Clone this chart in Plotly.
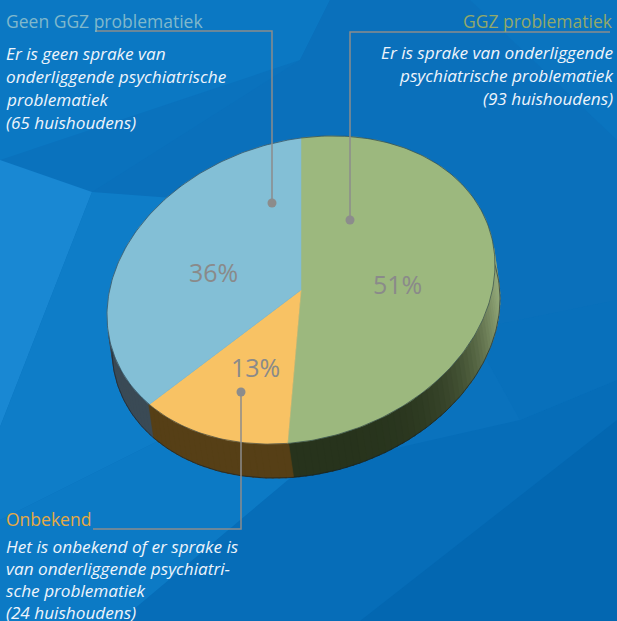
import numpy as np
import plotly.graph_objects as go

# ---------------- data ----------------
categories = ["GGZ problematiek", "Onbekend", "Geen GGZ problematiek"]
households = [93, 24, 65]
descriptions = [
    ["Er is sprake van onderliggende", "psychiatrische problematiek", "(93 huishoudens)"],
    ["Het is onbekend of er sprake is", "van onderliggende psychiatri-", "sche problematiek", "(24 huishoudens)"],
    ["Er is geen sprake van", "onderliggende psychiatrische", "problematiek", "(65 huishoudens)"],
]

# ---------------- styles ----------------
top_colors = ["#9cb87e", "#f8c264", "#83bfd6"]
side_dark = ["#27331c", "#563f16", "#3a4a55"]
side_light = ["#93a878", "#8c6a2c", "#5d7584"]
title_colors = ["#93a96a", "#e6aa43", "#80b8cc"]
W, H = 617, 621
cx, cy, rx, ry, shear = 301.0, 290.0, 194.0, 152.0, 0.13
ext = (5.0, 34.0)


def pt(theta, ox=0.0, oy=0.0):
    t = np.radians(theta)
    x = cx + rx * np.sin(t) + ox
    y = cy - ry * np.cos(t) - shear * rx * np.sin(t) + oy
    return x, y


def hex2rgb(h):
    h = h.lstrip("#")
    return np.array([int(h[i:i + 2], 16) for i in (0, 2, 4)], dtype=float)


def mix(a, b, f):
    c = hex2rgb(a) * (1 - f) + hex2rgb(b) * f
    return "rgb(%d,%d,%d)" % tuple(np.round(c).astype(int))


total = sum(households)
fracs = [v / total for v in households]
bounds = np.concatenate([[0], np.cumsum(fracs) * 360])

fig = go.Figure()

# ---------------- background facets ----------------
bg_shapes = [
    ([(0, 0), (330, 0), (300, 60), (0, 160)], "#0b78c3"),
    ([(0, 160), (92, 192), (0, 427)], "#1988d3"),
    ([(92, 192), (300, 60), (330, 0), (617, 0), (617, 420), (470, 330)], "#0a70bb"),
    ([(617, 0), (470, 0), (617, 140)], "#0a74bf"),
    ([(0, 427), (92, 192), (200, 200), (160, 440), (0, 520)], "#0e7dc8"),
    ([(0, 520), (160, 440), (300, 470), (120, 621), (0, 621)], "#0c7ac5"),
    ([(120, 621), (300, 470), (520, 420), (617, 380), (617, 621)], "#066db8"),
    ([(360, 621), (617, 420), (617, 621)], "#0367b1"),
    ([(617, 380), (520, 420), (470, 330), (617, 300)], "#0870bb"),
]
shapes = []
for poly, col in bg_shapes:
    path = "M " + " L ".join("%g,%g" % p for p in poly) + " Z"
    shapes.append(dict(type="path", path=path, fillcolor=col, line=dict(width=0),
                       layer="below", xref="x", yref="y"))

# ---------------- side (extrusion) ----------------
quads = []
step = 2.0
for i in range(len(households)):
    a0, a1 = bounds[i], bounds[i + 1]
    n = max(2, int(np.ceil((a1 - a0) / step)))
    edges = np.linspace(a0, a1, n + 1)
    for t0, t1 in zip(edges[:-1], edges[1:]):
        tm = 0.5 * (t0 + t1)
        tr = np.radians(tm)
        Tx = rx * np.cos(tr)
        Ty = ry * np.sin(tr) - shear * rx * np.cos(tr)
        nx, ny = Ty, -Tx
        if nx * ext[0] + ny * ext[1] <= 0:
            continue
        nl = np.hypot(nx, ny)
        f = max(0.0, nx / nl) ** 5
        col = mix(side_dark[i], side_light[i], f)
        arc = np.linspace(t0 - 0.3, t1 + 0.3, 4)
        xs_t, ys_t = pt(arc)
        xs_b, ys_b = pt(arc[::-1], ext[0], ext[1])
        xs = list(xs_t) + list(xs_b) + [xs_t[0]]
        ys = list(ys_t) + list(ys_b) + [ys_t[0]]
        quads.append((pt(tm)[1], xs, ys, col))

quads.sort(key=lambda q: q[0])
for _, xs, ys, col in quads:
    fig.add_trace(go.Scatter(x=xs, y=ys, fill="toself", fillcolor=col, mode="lines",
                             line=dict(color=col, width=0.6), hoverinfo="skip",
                             showlegend=False))

# side outer edge
tt = np.linspace(60, 300, 200)
bx, by = pt(tt, ext[0], ext[1])
fig.add_trace(go.Scatter(x=bx, y=by, mode="lines", line=dict(color="rgba(20,30,40,0.6)", width=1),
                         hoverinfo="skip", showlegend=False))

# ---------------- top face ----------------
for i in range(len(households)):
    arc = np.linspace(bounds[i], bounds[i + 1], 120)
    ax_, ay_ = pt(arc)
    xs = [cx] + list(ax_) + [cx]
    ys = [cy] + list(ay_) + [cy]
    fig.add_trace(go.Scatter(x=xs, y=ys, fill="toself", fillcolor=top_colors[i], mode="lines",
                             line=dict(color=top_colors[i], width=0.5), hoverinfo="skip",
                             name=categories[i], showlegend=False))

tt = np.linspace(0, 360, 361)
ox, oy = pt(tt)
fig.add_trace(go.Scatter(x=ox, y=oy, mode="lines", line=dict(color="rgba(30,45,55,0.55)", width=1),
                         hoverinfo="skip", showlegend=False))

# ---------------- percent labels ----------------
for i in range(len(households)):
    mid = 0.5 * (bounds[i] + bounds[i + 1])
    t = np.radians(mid)
    lx = cx + 0.5 * rx * np.sin(t)
    ly = cy - 0.5 * ry * np.cos(t) - shear * 0.5 * rx * np.sin(t) + 4
    fig.add_annotation(x=lx, y=ly, text="%d%%" % round(100 * fracs[i]), showarrow=False,
                       font=dict(family="Open Sans", size=25, color="#8a8a8a"),
                       xanchor="center", yanchor="middle")

# ---------------- leader lines ----------------
gray = "#8c8c8c"
leaders = [
    ([610, 350, 350], [32, 32, 220]),
    ([93, 241, 241], [529, 529, 392]),
    ([95, 272, 272], [31, 31, 203]),
]
for xs, ys in leaders:
    fig.add_trace(go.Scatter(x=xs, y=ys, mode="lines", line=dict(color=gray, width=1.5),
                             hoverinfo="skip", showlegend=False))
fig.add_trace(go.Scatter(x=[350, 241, 272], y=[220, 392, 203], mode="markers",
                         marker=dict(color=gray, size=9), hoverinfo="skip", showlegend=False))

# ---------------- text blocks ----------------
blocks = [
    dict(x=615, anchor="right", ty=21, ly=[52, 75, 98]),
    dict(x=4, anchor="left", ty=519, ly=[546, 568, 590, 612]),
    dict(x=4, anchor="left", ty=21, ly=[53, 76, 99, 122]),
]
for i, b in enumerate(blocks):
    fig.add_annotation(x=b["x"], y=b["ty"], text=categories[i], showarrow=False,
                       xanchor=b["anchor"], yanchor="middle",
                       font=dict(family="Open Sans", size=17.5, color=title_colors[i]))
    for line, yy in zip(descriptions[i], b["ly"]):
        fig.add_annotation(x=b["x"], y=yy, text="<i>%s</i>" % line, showarrow=False,
                           xanchor=b["anchor"], yanchor="middle",
                           font=dict(family="Open Sans", size=17.2, color="#eef4fb"))

fig.update_layout(
    width=W, height=H, margin=dict(l=0, r=0, t=0, b=0),
    paper_bgcolor="#0a72bd", plot_bgcolor="rgba(0,0,0,0)",
    xaxis=dict(range=[0, W], visible=False, fixedrange=True),
    yaxis=dict(range=[H, 0], visible=False, fixedrange=True),
    shapes=shapes, showlegend=False,
)
fig.write_html("out.html", config={"displayModeBar": False})
